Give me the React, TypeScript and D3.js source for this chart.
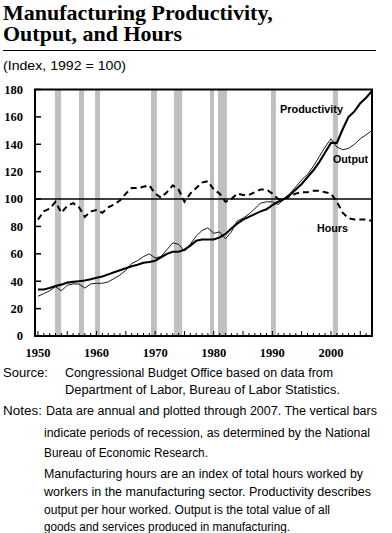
import React from "react";
import * as d3 from "d3";

const years: number[] = d3.range(1950, 2008);
const productivity: number[] = [
  34, 34, 35, 36.5, 37.5, 39, 39.5, 40, 40.5, 41.5,
  42.5, 43.5, 45, 46.5, 48, 49.5, 51, 52, 53.5, 54,
  55, 57.5, 60, 61.5, 61.5, 63, 66, 69.5, 70.5, 70.5,
  70.5, 72, 74.5, 78.5, 82, 85, 87, 89, 91, 92.5,
  95.5, 98, 100, 103, 107, 111, 116, 121, 127, 134,
  141, 141, 151, 160, 164, 170, 174, 179,
];
const output: number[] = [
  29, 31, 33, 36, 33, 37, 38, 38, 35, 38,
  38.5, 38.5, 39.5, 42, 44.5, 48, 53, 55, 58, 60,
  57, 58, 63, 68, 67, 62, 67, 73, 77, 79,
  75, 76, 71, 76, 84, 86, 89, 93, 97, 98,
  98, 96, 100, 104, 109, 114, 118, 124, 131, 138,
  144, 138, 136, 137, 140, 144, 147, 150,
];
const hours: number[] = [
  85, 91, 93, 98, 90, 95, 97, 94, 87, 91,
  92, 90, 94, 96, 99, 104, 108, 108, 109, 110,
  104, 101, 105, 110, 107, 98, 104, 108, 112, 113,
  107, 104, 98, 100, 104, 103, 103, 105, 107, 107,
  104, 100, 100, 102, 104, 105, 105, 106, 106, 105,
  104, 98, 90, 86, 85, 85, 85, 84,
];
const recessions: [number, number][] = [
  [1952.9, 1953.95], [1957.0, 1957.87], [1959.75, 1960.6], [1969.3, 1970.3],
  [1973.2, 1974.6], [1979.36, 1980.05], [1980.72, 1982.25], [1989.76, 1990.6],
  [2000.33, 2001.2],
];
const yTicks: number[] = [0, 20, 40, 60, 80, 100, 120, 140, 160, 180];
const xTickLabels: number[] = [1950, 1960, 1970, 1980, 1990, 2000];

const titleLines = ["Manufacturing Productivity,", "Output, and Hours"];
const subtitle = "(Index, 1992 = 100)";

export default function App() {
  const L = 35, R = 372, T = 89.5, B = 336;
  const x = d3.scaleLinear().domain([1949.5, 2007]).range([L, R]);
  const y = d3.scaleLinear().domain([0, 180]).range([B, T]);
  const mk = (vals: number[]) =>
    d3.line<number>().x((_, i) => x(years[i])).y((v) => y(v))(vals) || "";

  const serif = "'Liberation Serif', 'DejaVu Serif', serif";
  const sans = "'Liberation Sans', Arial, sans-serif";
  const minorTicks = d3.range(1950, 2008);

  const noteLines: { t: string; x: number; y: number; w: number }[] = [
    { t: "Source:", x: 3, y: 377, w: 45 },
    { t: "Congressional Budget Office based on data from", x: 65, y: 377, w: 268 },
    { t: "Department of Labor, Bureau of Labor Statistics.", x: 65, y: 394, w: 275 },
    { t: "Notes:", x: 3, y: 415, w: 39 },
    { t: "Data are annual and plotted through 2007. The vertical bars", x: 46, y: 415, w: 331 },
    { t: "indicate periods of recession, as determined by the National", x: 44, y: 436.5, w: 326 },
    { t: "Bureau of Economic Research.", x: 44, y: 456.5, w: 164 },
    { t: "Manufacturing hours are an index of total hours worked by", x: 44, y: 477.5, w: 319 },
    { t: "workers in the manufacturing sector. Productivity describes", x: 44, y: 495.5, w: 327 },
    { t: "output per hour worked. Output is the total value of all", x: 44, y: 513.5, w: 286 },
    { t: "goods and services produced in manufacturing.", x: 44, y: 530.5, w: 246 },
  ];

  return (
    <svg width={392} height={533} style={{ position: "absolute", left: 0, top: 0, background: "#fff" }}>
      <rect x={0} y={0} width={392} height={533} fill="#fff" />
      <text x={3} y={20} fontFamily={serif} fontWeight="bold" fontSize={22}>{titleLines[0]}</text>
      <text x={3} y={41} fontFamily={serif} fontWeight="bold" fontSize={22}>{titleLines[1]}</text>
      <line x1={3} x2={376} y1={50.5} y2={50.5} stroke="#000" strokeWidth={1} />
      <text x={3} y={70} fontFamily={sans} fontSize={13} textLength={123} lengthAdjust="spacingAndGlyphs">{subtitle}</text>

      {recessions.map(([a, b], i) => (
        <rect key={i} x={x(a)} y={T} width={x(b) - x(a)} height={B - T} fill="#c0c0c0" />
      ))}

      <line x1={L} x2={R} y1={y(100)} y2={y(100)} stroke="#000" strokeWidth={1.6} />

      <path d={mk(hours)} fill="none" stroke="#000" strokeWidth={2} strokeDasharray="6,4" />
      <path d={mk(output)} fill="none" stroke="#000" strokeWidth={0.9} />
      <path d={mk(productivity)} fill="none" stroke="#000" strokeWidth={2.1} />

      {yTicks.map((v) => (
        <g key={v}>
          <line x1={L} x2={L + 6} y1={y(v)} y2={y(v)} stroke="#000" strokeWidth={1.5} />
          <text x={23} y={y(v)} dy="0.35em" textAnchor="end" fontFamily={serif} fontWeight="bold" fontSize={12.5}>{v}</text>
        </g>
      ))}
      {minorTicks.map((yr) => (
        <line key={yr} x1={x(yr)} x2={x(yr)} y1={B} y2={B - (yr % 5 === 0 ? 5 : 3)} stroke="#000" strokeWidth={1} />
      ))}
      {xTickLabels.map((yr) => (
        <text key={yr} x={x(yr)} y={357} textAnchor="middle" fontFamily={serif} fontWeight="bold" fontSize={12.5}>{yr}</text>
      ))}

      <rect x={L} y={T} width={R - L} height={B - T} fill="none" stroke="#000" strokeWidth={2} />

      <text x={280} y={113} fontFamily={sans} fontWeight="bold" fontSize={11.5} textLength={63} lengthAdjust="spacingAndGlyphs">Productivity</text>
      <text x={333} y={163} fontFamily={sans} fontWeight="bold" fontSize={11.5} textLength={35} lengthAdjust="spacingAndGlyphs">Output</text>
      <text x={317} y={232} fontFamily={sans} fontWeight="bold" fontSize={11.5} textLength={31} lengthAdjust="spacingAndGlyphs">Hours</text>

      {noteLines.map((n, i) => (
        <text key={i} x={n.x} y={n.y} fontFamily={sans} fontSize={12} textLength={n.w} lengthAdjust="spacingAndGlyphs">{n.t}</text>
      ))}
    </svg>
  );
}
